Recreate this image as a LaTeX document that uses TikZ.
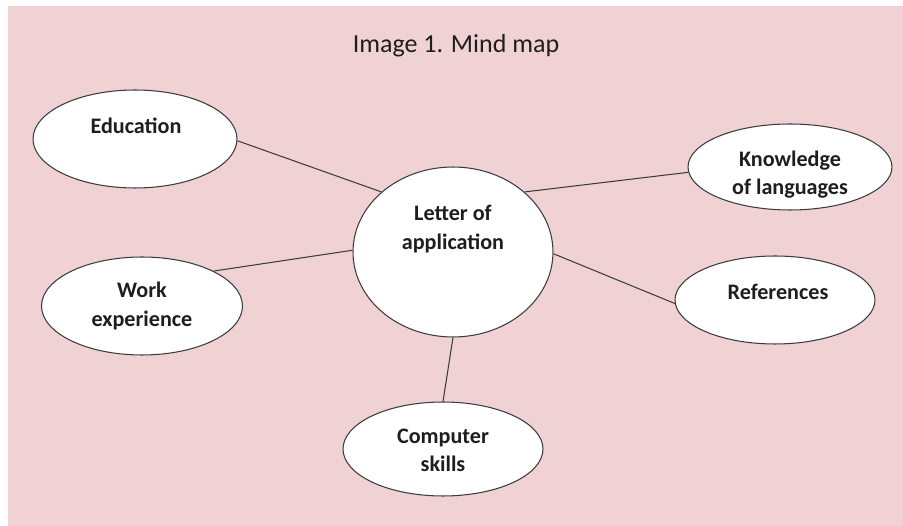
\documentclass[tikz,border=0pt]{standalone}
\usepackage{fontspec}
\setmainfont{Carlito}
\usetikzlibrary{shapes.geometric}
\definecolor{mapbg}{HTML}{F0D2D5}
\definecolor{edgegray}{HTML}{3C3C3C}
\definecolor{txtblack}{HTML}{1E1E1E}

\begin{document}
\begin{tikzpicture}[
    x=0.02cm, y=-0.02cm,
    text=txtblack,
    bubble/.style={
        ellipse, draw=edgegray, fill=white, line width=0.6pt,
        inner sep=0pt,
    },
    bubtxt/.style={
        font=\fontsize{12.6}{16}\selectfont\bfseries, align=center,
        inner sep=0pt,
    },
    link/.style={draw=edgegray, line width=0.6pt},
]

% Background
\useasboundingbox (0,0) rectangle (903,526);
\fill[mapbg] (8,6) rectangle (903,526);

% Title
\node[font=\fontsize{14.8}{17}\selectfont] (title) at (456,46) {Image 1. Mind map};

% Bubbles
\node[bubble, minimum width=4.0cm, minimum height=3.4cm] (letter) at (453,252) {};
\node[bubble, minimum width=4.08cm, minimum height=1.96cm] (edu) at (135,139) {};
\node[bubble, minimum width=4.08cm, minimum height=1.72cm] (lang) at (790,167) {};
\node[bubble, minimum width=4.02cm, minimum height=1.96cm] (work) at (142,306) {};
\node[bubble, minimum width=4.0cm, minimum height=1.76cm] (refs) at (775,300) {};
\node[bubble, minimum width=4.0cm, minimum height=1.88cm] (comp) at (443,449) {};

% Labels
\node[bubtxt] (letter-txt) at (453,229) {Letter of\\application};
\node[bubtxt] (edu-txt) at (136,126) {Education};
\node[bubtxt] (lang-txt) at (790,175) {Knowledge\\of languages};
\node[bubtxt] (work-txt) at (142,306) {Work\\experience};
\node[bubtxt] (refs-txt) at (778,292) {References};
\node[bubtxt] (comp-txt) at (443,450) {Computer\\skills};

% Connectors
\draw[link] (edu.-1) -- (letter.140);
\draw[link] (letter.40) -- (lang.183);
\draw[link] (work.26) -- (letter.179);
\draw[link] (letter.-1) -- (refs.182);
\draw[link] (letter.-90) -- (comp.90);

\end{tikzpicture}
\end{document}
